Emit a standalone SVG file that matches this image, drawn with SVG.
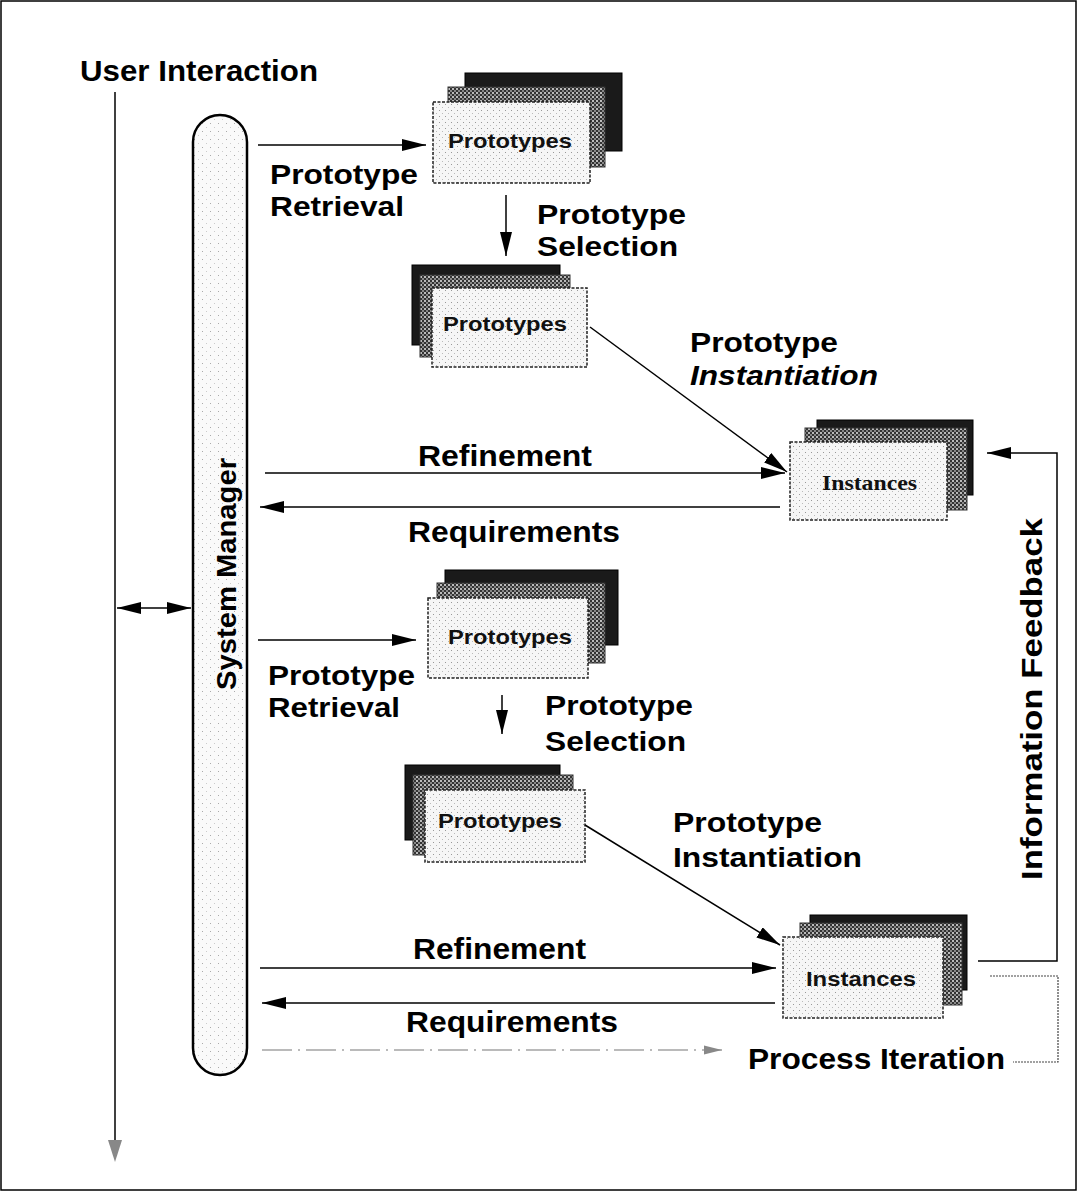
<svg xmlns="http://www.w3.org/2000/svg" width="1077" height="1191" viewBox="0 0 1077 1191">
<style>
.lbl{font-family:"Liberation Sans",Arial,sans-serif;font-weight:bold;font-size:30px;fill:#000}
.lbl2{font-family:"Liberation Sans",Arial,sans-serif;font-weight:bold;font-size:28px;fill:#000}
.card{font-family:"Liberation Sans",Arial,sans-serif;font-weight:bold;font-size:21px;fill:#111}
.cardS{font-family:"Liberation Serif","Times New Roman",serif;font-weight:bold;font-size:22px;fill:#111}
.ln{stroke:#000;stroke-width:1.5;fill:none}
.front{fill:url(#dots);stroke:#222;stroke-width:1.5;stroke-dasharray:3 1.5}
.mid{fill:url(#check);stroke:#333;stroke-width:1}
.back{fill:#1a1a1a;stroke:#000;stroke-width:1}
</style>
<defs>
<pattern id="dots" width="6" height="6" patternUnits="userSpaceOnUse">
<rect width="6" height="6" fill="#f6f6f6"/>
<rect x="1" y="2" width="1" height="1" fill="#999"/>
<rect x="4" y="5" width="1" height="1" fill="#bbb"/>
</pattern>
<pattern id="check" width="4" height="4" patternUnits="userSpaceOnUse">
<rect width="4" height="4" fill="#333"/>
<rect width="2" height="2" fill="#bbb"/>
<rect x="2" y="2" width="2" height="2" fill="#888"/>
</pattern>
<pattern id="pill" width="8" height="8" patternUnits="userSpaceOnUse">
<rect width="8" height="8" fill="#fafafa"/>
<rect x="2" y="3" width="1" height="1" fill="#aaa"/>
<rect x="6" y="7" width="1" height="1" fill="#ccc"/>
</pattern>
<marker id="ah" viewBox="0 0 24 12" refX="24" refY="6" markerWidth="24" markerHeight="12" markerUnits="userSpaceOnUse" orient="auto-start-reverse">
<path d="M0,0 L24,6 L0,12 Z" fill="#000"/>
</marker>
<marker id="ahg" viewBox="0 0 20 10" refX="20" refY="5" markerWidth="18" markerHeight="10" markerUnits="userSpaceOnUse" orient="auto">
<path d="M0,0 L20,5 L0,10 Z" fill="#888"/>
</marker>
</defs>
<rect x="1" y="1" width="1075" height="1189" fill="#fff" stroke="#000" stroke-width="1.5"/>

<g id="user-interaction">
<text class="lbl" x="80" y="81" textLength="238" lengthAdjust="spacingAndGlyphs">User Interaction</text>
</g>

<g id="system-manager">
<rect x="193" y="115" width="54" height="960" rx="27" ry="27" fill="url(#pill)" stroke="#000" stroke-width="2.5"/>
<text class="lbl" transform="translate(236,574) rotate(-90)" text-anchor="middle" style="font-size:28px" textLength="232" lengthAdjust="spacingAndGlyphs">System Manager</text>
</g>

<g id="prototypes-1">
<rect class="back" x="465" y="73" width="157" height="78"/>
<rect class="mid" x="448" y="87" width="157" height="80"/>
<rect class="front" x="433" y="102" width="157" height="81"/>
<text class="card" x="448" y="148" textLength="124" lengthAdjust="spacingAndGlyphs">Prototypes</text>
</g>

<g id="prototypes-2">
<rect class="back" x="412" y="265" width="148" height="80"/>
<rect class="mid" x="420" y="275" width="150" height="82"/>
<rect class="front" x="432" y="288" width="155" height="79"/>
<text class="card" x="443" y="331" textLength="124" lengthAdjust="spacingAndGlyphs">Prototypes</text>
</g>

<g id="instances-1">
<rect class="back" x="817" y="420" width="156" height="75"/>
<rect class="mid" x="805" y="428" width="162" height="82"/>
<rect class="front" x="790" y="442" width="157" height="78"/>
<text class="cardS" x="822" y="490" textLength="95" lengthAdjust="spacingAndGlyphs">Instances</text>
</g>

<g id="prototypes-3">
<rect class="back" x="445" y="570" width="173" height="75"/>
<rect class="mid" x="437" y="583" width="168" height="80"/>
<rect class="front" x="428" y="598" width="160" height="80"/>
<text class="card" x="448" y="644" textLength="124" lengthAdjust="spacingAndGlyphs">Prototypes</text>
</g>

<g id="prototypes-4">
<rect class="back" x="405" y="765" width="155" height="75"/>
<rect class="mid" x="413" y="775" width="160" height="80"/>
<rect class="front" x="425" y="790" width="160" height="72"/>
<text class="card" x="438" y="828" textLength="124" lengthAdjust="spacingAndGlyphs">Prototypes</text>
</g>

<g id="instances-2">
<rect class="back" x="810" y="915" width="157" height="75"/>
<rect class="mid" x="800" y="923" width="162" height="82"/>
<rect class="front" x="783" y="937" width="160" height="81"/>
<text class="card" x="806" y="986" textLength="110" lengthAdjust="spacingAndGlyphs">Instances</text>
</g>

<g id="connectors">
<line class="ln" x1="115" y1="92" x2="115" y2="1140" stroke="#555"/>
<path d="M108,1140 L122,1140 L115,1162 Z" fill="#888"/>
<line class="ln" x1="117" y1="608" x2="191" y2="608" marker-start="url(#ah)" marker-end="url(#ah)"/>
<line class="ln" x1="258" y1="145" x2="426" y2="145" marker-end="url(#ah)"/>
<line class="ln" x1="506" y1="195" x2="506" y2="256" marker-end="url(#ah)"/>
<line class="ln" x1="590" y1="327" x2="787" y2="472" marker-end="url(#ah)"/>
<line class="ln" x1="265" y1="473" x2="785" y2="473" marker-end="url(#ah)"/>
<line class="ln" x1="780" y1="507" x2="260" y2="507" marker-end="url(#ah)"/>
<line class="ln" x1="258" y1="640" x2="416" y2="640" marker-end="url(#ah)"/>
<line class="ln" x1="502" y1="695" x2="502" y2="734" marker-end="url(#ah)"/>
<line class="ln" x1="585" y1="825" x2="780" y2="945" marker-end="url(#ah)"/>
<line class="ln" x1="260" y1="968" x2="776" y2="968" marker-end="url(#ah)"/>
<line class="ln" x1="775" y1="1003" x2="262" y2="1003" marker-end="url(#ah)"/>
<line x1="262" y1="1050" x2="722" y2="1050" stroke="#777" stroke-width="1.2" stroke-dasharray="30 6 2 6" marker-end="url(#ahg)"/>
<polyline class="ln" points="978,961 1057,961 1057,453 987,453" stroke-width="1.2" marker-end="url(#ah)"/>
<polyline points="990,976 1058,976 1058,1062 1013,1062" fill="none" stroke="#444" stroke-width="1.2" stroke-dasharray="2 1"/>
</g>

<g id="labels">
<text class="lbl2" x="270" y="184" textLength="148" lengthAdjust="spacingAndGlyphs">Prototype</text>
<text class="lbl2" x="270" y="216" textLength="134" lengthAdjust="spacingAndGlyphs">Retrieval</text>
<text class="lbl2" x="537" y="224" textLength="149" lengthAdjust="spacingAndGlyphs">Prototype</text>
<text class="lbl2" x="537" y="256" textLength="141" lengthAdjust="spacingAndGlyphs">Selection</text>
<text class="lbl2" x="690" y="352" textLength="148" lengthAdjust="spacingAndGlyphs">Prototype</text>
<text class="lbl2" x="690" y="385" font-style="italic" textLength="188" lengthAdjust="spacingAndGlyphs">Instantiation</text>
<text class="lbl" x="418" y="466" textLength="174" lengthAdjust="spacingAndGlyphs">Refinement</text>
<text class="lbl" x="408" y="542" textLength="212" lengthAdjust="spacingAndGlyphs">Requirements</text>
<text class="lbl2" x="268" y="685" textLength="147" lengthAdjust="spacingAndGlyphs">Prototype</text>
<text class="lbl2" x="268" y="717" textLength="132" lengthAdjust="spacingAndGlyphs">Retrieval</text>
<text class="lbl2" x="545" y="715" textLength="148" lengthAdjust="spacingAndGlyphs">Prototype</text>
<text class="lbl2" x="545" y="751" textLength="141" lengthAdjust="spacingAndGlyphs">Selection</text>
<text class="lbl2" x="673" y="832" textLength="149" lengthAdjust="spacingAndGlyphs">Prototype</text>
<text class="lbl2" x="673" y="867" textLength="189" lengthAdjust="spacingAndGlyphs">Instantiation</text>
<text class="lbl" x="413" y="959" textLength="173" lengthAdjust="spacingAndGlyphs">Refinement</text>
<text class="lbl" x="406" y="1032" textLength="212" lengthAdjust="spacingAndGlyphs">Requirements</text>
<text class="lbl" x="748" y="1069" textLength="257" lengthAdjust="spacingAndGlyphs">Process Iteration</text>
<text class="lbl" transform="translate(1042,699) rotate(-90)" text-anchor="middle" textLength="362" lengthAdjust="spacingAndGlyphs">Information Feedback</text>
</g>
</svg>
